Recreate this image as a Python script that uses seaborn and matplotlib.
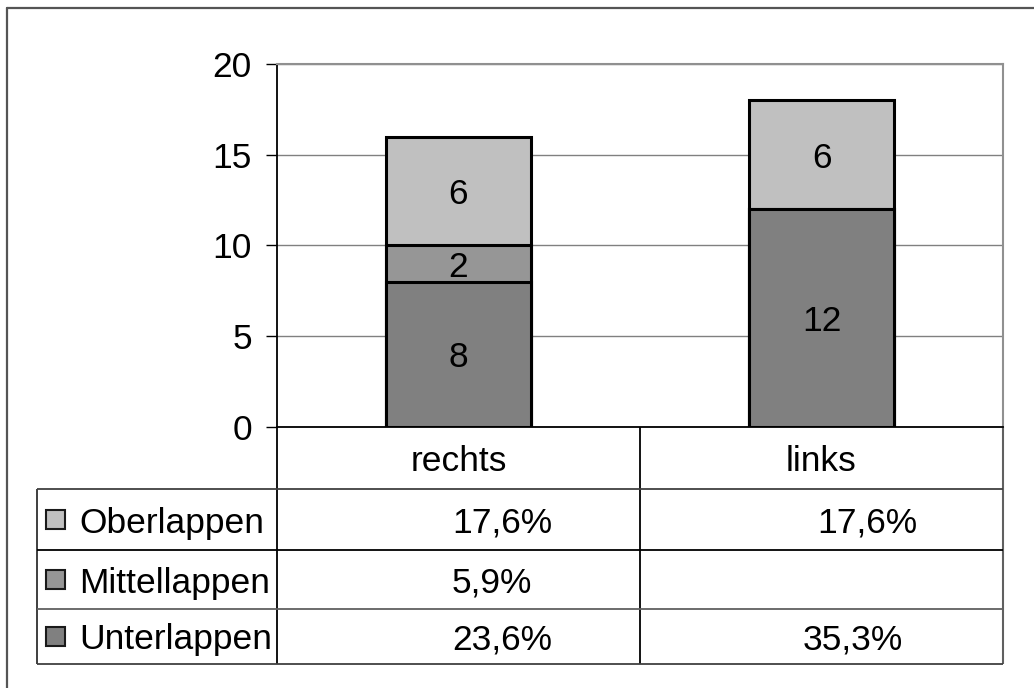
import matplotlib
matplotlib.use("Agg")
import matplotlib.pyplot as plt
from matplotlib.patches import Rectangle
import pandas as pd
import seaborn as sns

# Data
categories = ["rechts", "links"]
lobes = ["Oberlappen", "Mittellappen", "Unterlappen"]
oberlappen = [6, 6]        # rechts, links
mittellappen = [2, 0]
unterlappen = [8, 12]
percent_labels = {
    "Oberlappen": ["17,6%", "17,6%"],
    "Mittellappen": ["5,9%", ""],
    "Unterlappen": ["23,6%", "35,3%"],
}
y_ticks = [0, 5, 10, 15, 20]

colors = {"Oberlappen": "#c0c0c0", "Mittellappen": "#969696", "Unterlappen": "#808080"}

sns.set_theme(style="white")
plt.rcParams["font.family"] = ["Liberation Sans", "DejaVu Sans"]
FS = 25.5

W, H = 1034, 688
fig = plt.figure(figsize=(W / 100, H / 100), dpi=100)

# Plot area (pixel layout)
left, right, top, bottom = 277, 1003, 64, 427
ax = fig.add_axes([left / W, (H - bottom) / H, (right - left) / W, (bottom - top) / H])

df = pd.DataFrame({
    "Seite": categories,
    "Unterlappen": unterlappen,
    "Mittellappen": mittellappen,
    "Oberlappen": oberlappen,
})
df["cum_unter"] = df["Unterlappen"]
df["cum_mittel"] = df["cum_unter"] + df["Mittellappen"]
df["cum_ober"] = df["cum_mittel"] + df["Oberlappen"]

# Stacked bars drawn as cumulative layers, tallest first
for col, lobe in [("cum_ober", "Oberlappen"), ("cum_mittel", "Mittellappen"), ("cum_unter", "Unterlappen")]:
    sns.barplot(data=df, x="Seite", y=col, order=categories, color=colors[lobe],
                width=0.4, edgecolor="black", linewidth=2.2, errorbar=None,
                saturation=1, ax=ax, zorder=3)

# Segment value labels
for i in range(len(categories)):
    base = 0
    for vals in (unterlappen, mittellappen, oberlappen):
        v = vals[i]
        if v > 0:
            ax.text(i, base + v / 2, str(v), ha="center", va="center_baseline",
                    fontsize=FS, color="black", zorder=5)
        base += v

ax.set_xlim(-0.5, 1.5)
ax.set_ylim(0, 20)
ax.set_yticks(y_ticks)
ax.set_yticklabels([str(t) for t in y_ticks])
ax.set_xlabel("")
ax.set_ylabel("")
ax.yaxis.grid(True, color="#808080", linewidth=1)
ax.xaxis.grid(False)
ax.set_axisbelow(True)
ax.tick_params(axis="y", left=True, length=8, width=1, color="black", pad=10,
               labelsize=FS, labelcolor="black")
ax.tick_params(axis="x", bottom=False, labelbottom=False)
for side in ("top", "right"):
    ax.spines[side].set_color("#909090")
    ax.spines[side].set_linewidth(1.5)
for side in ("left", "bottom"):
    ax.spines[side].set_color("black")
    ax.spines[side].set_linewidth(1.3)

# Overlay in pixel coordinates for the data table and outer frame
ov = fig.add_axes([0, 0, 1, 1], zorder=-1)
ov.set_xlim(0, W)
ov.set_ylim(H, 0)
ov.axis("off")

# Outer frame
ov.plot([7, 7], [8, H + 5], color="#555555", lw=1.6)
ov.plot([7, W + 5], [8, 8], color="#555555", lw=1.6)

# Table geometry
tab_left = 37
mid = (left + right) / 2
row_edges = [bottom, 489, 550, 609, 664]
line_col = "#303030"
ov.vlines([left, mid], bottom, row_edges[-1], color="black", lw=1.3)
ov.vlines([right], bottom, row_edges[-1], color="#606060", lw=1.5)
ov.vlines([tab_left], row_edges[1], row_edges[-1], color=line_col, lw=1.3)
for y, c in zip(row_edges[1:], ["#404040", "black", "#606060", "#404040"]):
    ov.hlines(y, tab_left, right, color=c, lw=1.3)

col_centers = [left + (right - left) * 0.25, left + (right - left) * 0.75]
cat_y = (row_edges[0] + row_edges[1]) / 2
for cx, name in zip(col_centers, categories):
    ov.text(cx, cat_y, name, ha="center", va="center_baseline", fontsize=FS, color="black")

# Cell text anchors (left edge of each value per column and row)
value_x = {
    "Oberlappen": [452, 817],
    "Mittellappen": [452, 817],
    "Unterlappen": [452, 803],
}
for r, lobe in enumerate(lobes):
    yc = (row_edges[r + 1] + row_edges[r + 2]) / 2
    ov.add_patch(Rectangle((46, yc - 9.5), 19, 19, facecolor=colors[lobe],
                           edgecolor="#1a1a1a", lw=1.5))
    ov.text(79, yc, lobe, ha="left", va="center_baseline", fontsize=FS, color="black")
    for j in range(len(categories)):
        ov.text(value_x[lobe][j], yc, percent_labels[lobe][j], ha="left",
                va="center_baseline", fontsize=FS, color="black")

fig.savefig("out.png", dpi=100, facecolor="white")
